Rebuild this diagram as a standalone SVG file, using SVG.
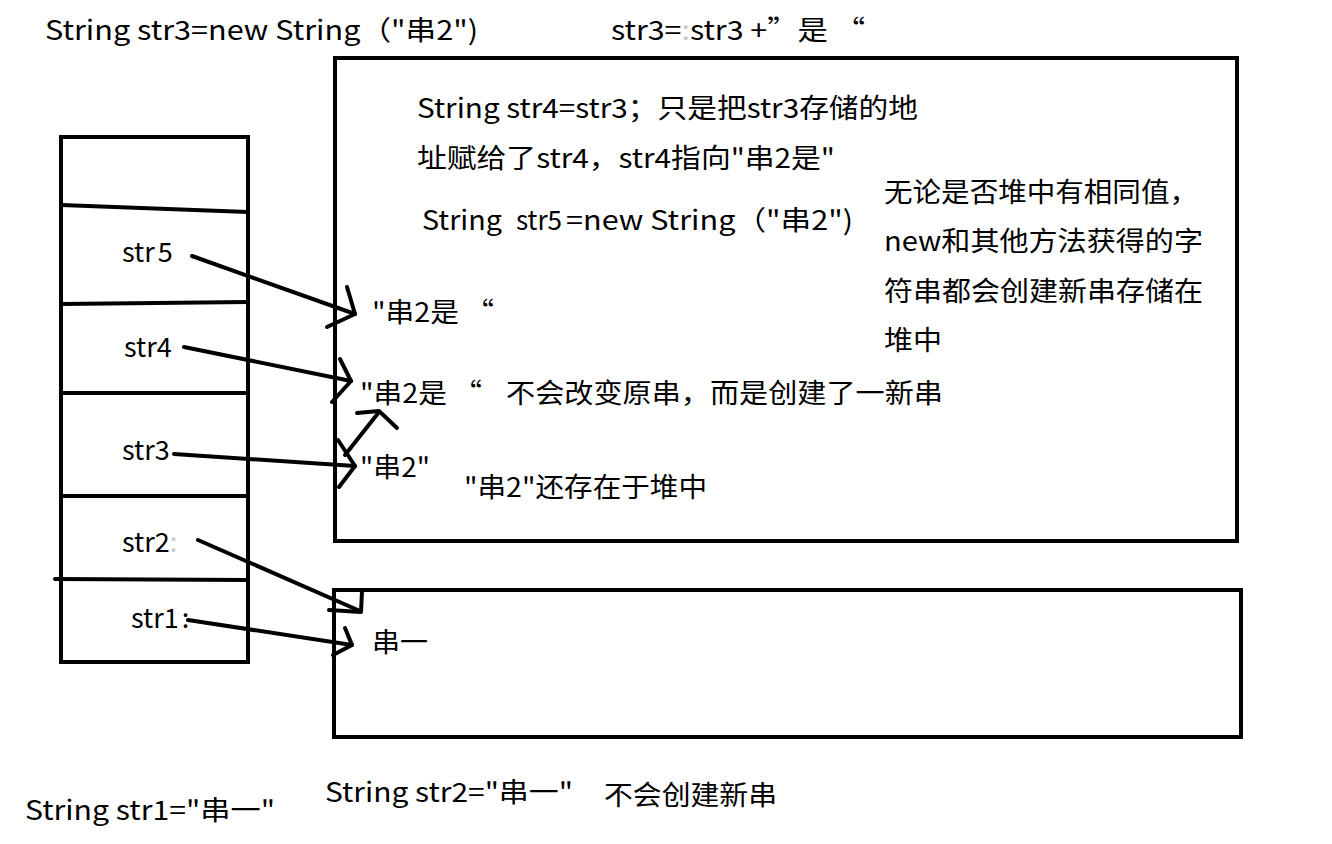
<svg xmlns="http://www.w3.org/2000/svg" width="1332" height="844" viewBox="0 0 1332 844">
<style>
  .t { font-family: "Noto Sans CJK SC", "Noto Sans", "Liberation Sans", sans-serif; font-size: 27px; fill: #000; }
  .n { font-family: "Liberation Sans", "Noto Sans CJK SC", sans-serif; font-size: 28px; fill: #000; }
  .box { fill: none; stroke: #000; stroke-width: 4; }
  .ln { fill: none; stroke: #000; stroke-width: 4; stroke-linecap: round; stroke-linejoin: round; }
  .faint { fill: #c8c8c8; }
</style>
<rect width="1332" height="844" fill="#fff"/>

<g id="code-top">
  <text class="t" x="45" y="40" textLength="433" lengthAdjust="spacingAndGlyphs">String str3=new String（"串2")</text>
  <text class="t" x="611" y="40" textLength="254" lengthAdjust="spacingAndGlyphs">str3=<tspan class="faint">:</tspan>str3 +”是 “</text>
</g>

<g id="stack">
  <rect class="box" x="61" y="137" width="187" height="525"/>
  <line class="ln" x1="61" y1="205" x2="248" y2="212"/>
  <line class="ln" x1="61" y1="304" x2="248" y2="302"/>
  <line class="ln" x1="61" y1="393" x2="248" y2="393"/>
  <line class="ln" x1="61" y1="496" x2="248" y2="496"/>
  <line class="ln" x1="55" y1="579" x2="248" y2="580"/>
  <text class="t" x="122" y="262">str<tspan dx="3">5</tspan></text>
  <text class="t" x="124" y="357">str4</text>
  <text class="t" x="122" y="460">str3</text>
  <text class="t" x="122" y="552">str2<tspan class="faint">:</tspan></text>
  <text class="t" x="131" y="628">str1<tspan dx="3">:</tspan></text>
</g>

<g id="heap">
  <rect class="box" x="335" y="58" width="902" height="483"/>
  <text class="t" x="417" y="118" textLength="501" lengthAdjust="spacingAndGlyphs">String str4=str3；只是把str3存储的地</text>
  <text class="t" x="417" y="168" textLength="418" lengthAdjust="spacingAndGlyphs">址赋给了str4，str4指向"串2是"</text>
  <text class="t" x="422" y="230" textLength="80" lengthAdjust="spacingAndGlyphs">String</text>
  <text class="t" x="516" y="230" textLength="46" lengthAdjust="spacingAndGlyphs">str5</text>
  <text class="t" x="566" y="230" textLength="287" lengthAdjust="spacingAndGlyphs">=new String（"串2")</text>
  <text class="t" x="884" y="202" textLength="314" lengthAdjust="spacingAndGlyphs">无论是否堆中有相同值，</text>
  <text class="t" x="884" y="251" textLength="319" lengthAdjust="spacingAndGlyphs">new和其他方法获得的字</text>
  <text class="t" x="884" y="301" textLength="319" lengthAdjust="spacingAndGlyphs">符串都会创建新串存储在</text>
  <text class="t" x="884" y="350" textLength="58" lengthAdjust="spacingAndGlyphs">堆中</text>
  <text class="t" x="372" y="322" textLength="122" lengthAdjust="spacingAndGlyphs">"串2是 “</text>
  <text class="t" x="360" y="403" textLength="122" lengthAdjust="spacingAndGlyphs">"串2是 “</text>
  <text class="t" x="506" y="403" textLength="437" lengthAdjust="spacingAndGlyphs">不会改变原串，而是创建了一新串</text>
  <text class="t" x="360" y="477" textLength="70" lengthAdjust="spacingAndGlyphs">"串2"</text>
  <text class="t" x="464" y="497" textLength="243" lengthAdjust="spacingAndGlyphs">"串2"还存在于堆中</text>
</g>

<g id="string-pool">
  <rect class="box" x="334" y="590" width="907" height="147"/>
  <text class="t" x="372" y="652" textLength="56" lengthAdjust="spacingAndGlyphs">串一</text>
</g>

<g id="code-bottom">
  <text class="t" x="25" y="820" textLength="250" lengthAdjust="spacingAndGlyphs">String str1="串一"</text>
  <text class="t" x="325" y="802" textLength="248" lengthAdjust="spacingAndGlyphs">String str2="串一"</text>
  <text class="t" x="604" y="805" textLength="173" lengthAdjust="spacingAndGlyphs">不会创建新串</text>
</g>

<g id="connectors">
  <!-- str5 -->
  <polyline class="ln" points="192,256 355,314"/>
  <polyline class="ln" points="347,287 355,314 327,327"/>
  <!-- str4 -->
  <polyline class="ln" points="184,347 351,381"/>
  <polyline class="ln" points="340,359 351,381 332,402"/>
  <!-- str3 -->
  <polyline class="ln" points="174,454 355,466"/>
  <polyline class="ln" points="338,440 355,466 339,487"/>
  <!-- "串2" to "串2是" -->
  <polyline class="ln" points="345,455 379,412"/>
  <polyline class="ln" points="357,413 379,411 397,428"/>
  <!-- str2 -->
  <polyline class="ln" points="198,540 360,611"/>
  <polyline class="ln" points="362,591 361,612 329,610"/>
  <!-- str1 -->
  <polyline class="ln" points="188,620 352,645"/>
  <polyline class="ln" points="345,628 352,645 333,655"/>
</g>
</svg>
